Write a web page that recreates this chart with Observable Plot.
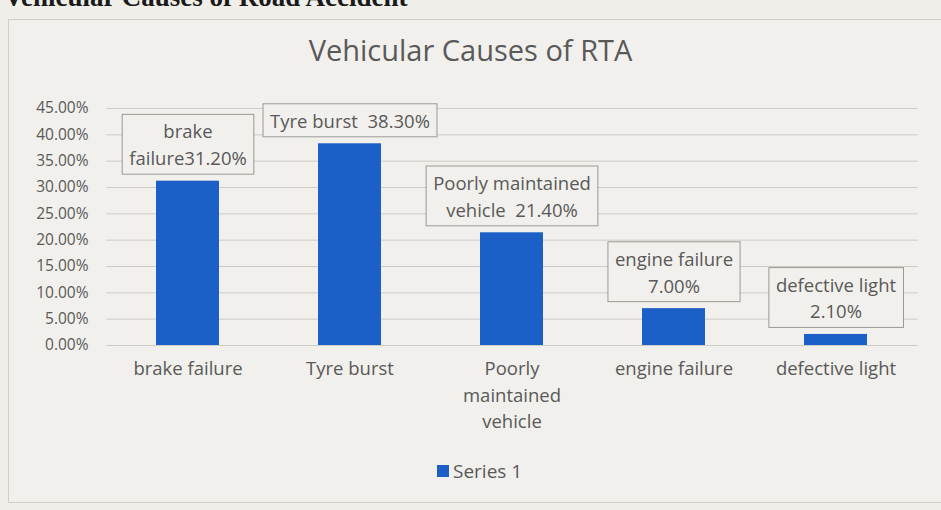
<!DOCTYPE html>
<html>
<head>
<meta charset="utf-8">
<script src="https://cdn.jsdelivr.net/npm/d3@7"></script>
<script src="https://cdn.jsdelivr.net/npm/@observablehq/plot@0.6"></script>
<style>
  html, body { margin: 0; padding: 0; background: #efeee9; }
  #wrap { position: relative; width: 941px; height: 510px; overflow: hidden; background: #efeee9; font-family: "Open Sans", Lato, sans-serif; }
  #heading { position: absolute; left: 4px; top: -18px; font-family: "Liberation Serif", "DejaVu Serif", serif; font-weight: bold; font-size: 27px; color: #1a1a1a; white-space: nowrap; }
  #frame { position: absolute; left: 8px; top: 19px; width: 950px; height: 482px; border: 1px solid #cfcfcb; background: #f1f0ec; }
  #title { position: absolute; left: 0; width: 941px; top: 30px; text-align: center; font-size: 29px; color: #595959; }
  #chart { position: absolute; left: 0; top: 0; }
  #legend { position: absolute; top: 458px; left: 437px; font-size: 19px; color: #595959; display: flex; align-items: center; }
  #legend .sw { width: 12px; height: 12px; background: #1c5fc7; margin-right: 4px; }
</style>
</head>
<body>
<div id="wrap">
  <div id="heading">Vehicular Causes of Road Accident</div>
  <div id="frame"></div>
  <div id="title">Vehicular Causes of RTA</div>
  <div id="chart"></div>
  <div id="legend"><span class="sw"></span><span>Series 1</span></div>
</div>
<script>
const causes = ["brake failure", "Tyre burst", "Poorly maintained vehicle", "engine failure", "defective light"];
const values = [31.2, 38.3, 21.4, 7.0, 2.1];
const tickLabels = ["brake failure", "Tyre burst", "Poorly\nmaintained\nvehicle", "engine failure", "defective light"];
const labelPrefixes = ["brake\nfailure", "Tyre burst\u00a0\u00a0", "Poorly maintained\nvehicle\u00a0\u00a0", "engine failure\n", "defective light\n"];
const yTicks = [0, 5, 10, 15, 20, 25, 30, 35, 40, 45];
const seriesName = "Series 1";

const data = causes.map((c, i) => ({cause: c, value: values[i], label: labelPrefixes[i] + values[i].toFixed(2) + "%", tick: tickLabels[i]}));
const tickMap = new Map(data.map(d => [d.cause, d.tick]));

const barColor = "#1c5fc7";
const textColor = "#595959";

const chart = Plot.plot({
  width: 941,
  height: 440,
  marginTop: 108,
  marginBottom: 95,
  marginLeft: 106,
  marginRight: 23,
  style: {background: "transparent", fontFamily: "'Open Sans', Lato, sans-serif", color: textColor},
  x: {domain: causes, paddingInner: 0.61, paddingOuter: 0.305, axis: null},
  y: {domain: [0, 45], axis: null},
  marks: [
    Plot.gridY(yTicks, {stroke: "#cbcbc7", strokeOpacity: 1, strokeWidth: 1}),
    Plot.barY(data, {x: "cause", y: "value", fill: barColor}),
    Plot.axisY(yTicks, {tickSize: 0, tickPadding: 18, fontSize: 15.5, fill: textColor, tickFormat: d => d.toFixed(2) + "%", label: null}),
    Plot.axisX(causes, {tickSize: 0, tickPadding: 11, fontSize: 18.5, fill: textColor, tickFormat: d => tickMap.get(d), lineHeight: 1.43, label: null}),
    Plot.text(data, {x: "cause", y: "value", text: "label", dy: -16, lineAnchor: "bottom", fontSize: 18.5, lineHeight: 1.45, fill: textColor, ariaLabel: "datalabel"})
  ]
});
document.getElementById("chart").appendChild(chart);

// draw boxes behind data labels
const ns = "http://www.w3.org/2000/svg";
const labelTexts = Array.from(chart.querySelectorAll("text")).filter(t => t.textContent.includes("%") && /[a-z]/i.test(t.textContent));
labelTexts.forEach(t => {
  const b = t.getBBox();
  const r = document.createElementNS(ns, "rect");
  const px = 7, py = 4;
  r.setAttribute("x", b.x - px);
  r.setAttribute("y", b.y - py);
  r.setAttribute("width", b.width + 2 * px);
  r.setAttribute("height", b.height + 2 * py);
  r.setAttribute("fill", "#f1f0ec");
  r.setAttribute("stroke", "#9a9a96");
  r.setAttribute("stroke-width", 1);
  const tr = t.getAttribute("transform");
  if (tr) r.setAttribute("transform", tr);
  t.parentNode.insertBefore(r, t);
});
</script>
</body>
</html>
